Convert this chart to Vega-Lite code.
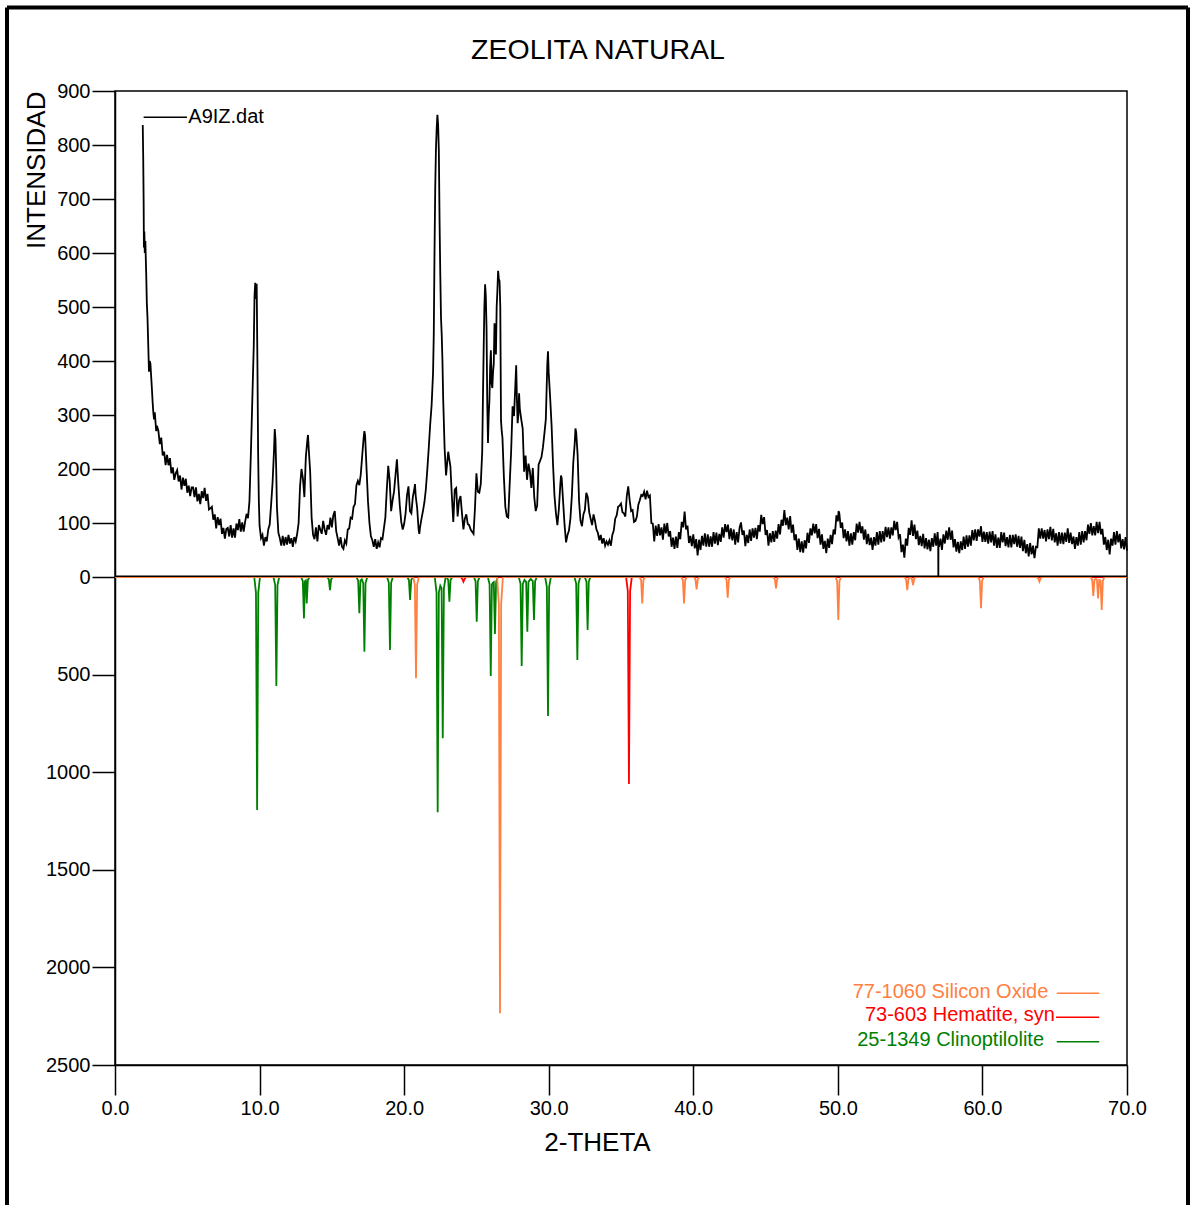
{
"$schema": "https://vega.github.io/schema/vega-lite/v6.json",
"width": 1012, "height": 974,
"autosize": {"type": "none"},
"padding": {"left": 115, "top": 91, "right": 65, "bottom": 140},
"background": "white",
"title": {"text": "ZEOLITA NATURAL", "font": "Liberation Sans", "fontSize": 28.5, "fontWeight": "normal", "color": "black", "anchor": "middle", "baseline": "alphabetic", "offset": -82, "dx": -23},
"config": {
  "view": {"stroke": "black", "strokeWidth": 1.5},
  "axis": {"domainColor": "black", "domainWidth": 1.5, "tickColor": "black", "tickWidth": 1.5, "labelColor": "black", "labelFont": "Liberation Sans", "labelFontSize": 20, "titleFont": "Liberation Sans", "titleFontSize": 26, "titleFontWeight": "normal", "titleColor": "black", "grid": false}
},
"datasets": {
  "sample": [
{"t":1.92,"i":837},{"t":1.95,"i":780},{"t":1.98,"i":700},{"t":2.0,"i":610},{"t":2.03,"i":640},{"t":2.06,"i":600},{"t":2.1,"i":622},{"t":2.13,"i":590},{"t":2.16,"i":560},{"t":2.2,"i":509},{"t":2.25,"i":478},{"t":2.3,"i":430},{"t":2.35,"i":380},{"t":2.4,"i":400},{"t":2.45,"i":395},{"t":2.5,"i":372},{"t":2.55,"i":350},{"t":2.6,"i":325},{"t":2.65,"i":305},{"t":2.7,"i":292},{"t":2.75,"i":305},{"t":2.8,"i":288},{"t":2.85,"i":270},{"t":2.9,"i":280},
{"t":3.0,"i":271},{"t":3.1,"i":246},{"t":3.2,"i":258},{"t":3.3,"i":225},{"t":3.4,"i":232},{"t":3.5,"i":207},{"t":3.6,"i":226},{"t":3.7,"i":207},{"t":3.8,"i":220},{"t":3.9,"i":192},
{"t":4.0,"i":203},{"t":4.1,"i":180},{"t":4.2,"i":192},{"t":4.3,"i":198},{"t":4.4,"i":177},{"t":4.5,"i":188},{"t":4.6,"i":162},{"t":4.7,"i":184},{"t":4.8,"i":169},{"t":4.9,"i":182},
{"t":5.0,"i":156},{"t":5.1,"i":169},{"t":5.2,"i":150},{"t":5.3,"i":166},{"t":5.4,"i":166},{"t":5.5,"i":148},{"t":5.6,"i":166},{"t":5.7,"i":140},{"t":5.8,"i":154},{"t":5.9,"i":135},
{"t":6.0,"i":159},{"t":6.1,"i":146},{"t":6.2,"i":165},{"t":6.3,"i":141},{"t":6.4,"i":154},{"t":6.5,"i":125},{"t":6.6,"i":127},{"t":6.7,"i":130},{"t":6.8,"i":106},{"t":6.9,"i":116},
{"t":7.0,"i":90},{"t":7.1,"i":111},{"t":7.2,"i":96},{"t":7.3,"i":108},{"t":7.4,"i":80},{"t":7.5,"i":91},{"t":7.6,"i":71},{"t":7.7,"i":89},{"t":7.8,"i":91},{"t":7.9,"i":75},
{"t":8.0,"i":96},{"t":8.1,"i":73},{"t":8.2,"i":90},{"t":8.3,"i":73},{"t":8.4,"i":99},{"t":8.5,"i":87},{"t":8.6,"i":107},{"t":8.7,"i":84},{"t":8.8,"i":101},{"t":8.9,"i":84},
{"t":9.0,"i":102},{"t":9.1,"i":117},{"t":9.2,"i":109},{"t":9.3,"i":140},{"t":9.4,"i":230},{"t":9.5,"i":330},{"t":9.6,"i":430},{"t":9.65,"i":520},{"t":9.7,"i":545},{"t":9.75,"i":515},{"t":9.8,"i":543},{"t":9.85,"i":400},{"t":9.9,"i":230},{"t":9.95,"i":140},
{"t":10.0,"i":95},{"t":10.1,"i":72},{"t":10.2,"i":78},{"t":10.3,"i":58},{"t":10.4,"i":74},{"t":10.5,"i":66},{"t":10.6,"i":88},{"t":10.7,"i":97},{"t":10.8,"i":135},{"t":10.9,"i":175},
{"t":11.0,"i":235},{"t":11.05,"i":274},{"t":11.1,"i":255},{"t":11.15,"i":200},{"t":11.2,"i":130},{"t":11.3,"i":82},{"t":11.4,"i":72},{"t":11.5,"i":58},{"t":11.6,"i":76},{"t":11.7,"i":58},{"t":11.8,"i":74},{"t":11.9,"i":60},
{"t":12.0,"i":78},{"t":12.1,"i":62},{"t":12.2,"i":72},{"t":12.3,"i":56},{"t":12.4,"i":74},{"t":12.5,"i":66},{"t":12.6,"i":80},{"t":12.7,"i":100},{"t":12.8,"i":168},{"t":12.9,"i":200},
{"t":13.0,"i":182},{"t":13.1,"i":148},{"t":13.2,"i":222},{"t":13.3,"i":252},{"t":13.35,"i":263},{"t":13.4,"i":238},{"t":13.5,"i":195},{"t":13.6,"i":110},{"t":13.7,"i":78},{"t":13.8,"i":70},{"t":13.9,"i":92},
{"t":14.0,"i":66},{"t":14.1,"i":96},{"t":14.2,"i":88},{"t":14.3,"i":80},{"t":14.4,"i":104},{"t":14.5,"i":88},{"t":14.6,"i":78},{"t":14.7,"i":96},{"t":14.8,"i":88},{"t":14.9,"i":110},
{"t":15.0,"i":92},{"t":15.1,"i":114},{"t":15.2,"i":122},{"t":15.3,"i":85},{"t":15.4,"i":72},{"t":15.5,"i":58},{"t":15.6,"i":74},{"t":15.7,"i":56},{"t":15.8,"i":52},{"t":15.9,"i":68},
{"t":16.0,"i":62},{"t":16.1,"i":88},{"t":16.2,"i":90},{"t":16.3,"i":110},{"t":16.4,"i":108},{"t":16.5,"i":130},{"t":16.6,"i":135},{"t":16.7,"i":170},{"t":16.8,"i":178},{"t":16.9,"i":170},
{"t":17.0,"i":190},{"t":17.1,"i":225},{"t":17.2,"i":258},{"t":17.25,"i":270},{"t":17.3,"i":262},{"t":17.4,"i":200},{"t":17.5,"i":140},{"t":17.6,"i":100},{"t":17.7,"i":76},{"t":17.8,"i":68},{"t":17.9,"i":56},
{"t":18.0,"i":70},{"t":18.1,"i":52},{"t":18.2,"i":64},{"t":18.3,"i":55},{"t":18.4,"i":72},{"t":18.5,"i":70},{"t":18.6,"i":90},{"t":18.7,"i":110},{"t":18.8,"i":162},{"t":18.9,"i":206},
{"t":19.0,"i":178},{"t":19.1,"i":122},{"t":19.2,"i":142},{"t":19.3,"i":158},{"t":19.4,"i":188},{"t":19.5,"i":218},{"t":19.6,"i":172},{"t":19.7,"i":132},{"t":19.8,"i":102},{"t":19.9,"i":88},
{"t":20.0,"i":98},{"t":20.1,"i":118},{"t":20.2,"i":152},{"t":20.3,"i":168},{"t":20.4,"i":122},{"t":20.5,"i":118},{"t":20.6,"i":148},{"t":20.7,"i":162},{"t":20.75,"i":172},{"t":20.8,"i":150},{"t":20.9,"i":128},
{"t":21.0,"i":88},{"t":21.05,"i":80},{"t":21.1,"i":92},{"t":21.2,"i":108},{"t":21.3,"i":122},{"t":21.4,"i":138},{"t":21.5,"i":162},{"t":21.6,"i":198},{"t":21.7,"i":238},{"t":21.8,"i":282},{"t":21.9,"i":318},
{"t":22.0,"i":378},{"t":22.05,"i":450},{"t":22.1,"i":600},{"t":22.15,"i":720},{"t":22.2,"i":792},{"t":22.25,"i":830},{"t":22.3,"i":856},{"t":22.35,"i":838},{"t":22.4,"i":790},{"t":22.45,"i":660},{"t":22.5,"i":560},{"t":22.55,"i":480},{"t":22.6,"i":448},{"t":22.65,"i":400},{"t":22.7,"i":330},{"t":22.8,"i":238},{"t":22.9,"i":188},
{"t":23.0,"i":218},{"t":23.05,"i":232},{"t":23.1,"i":222},{"t":23.2,"i":205},{"t":23.3,"i":150},{"t":23.4,"i":102},{"t":23.5,"i":162},{"t":23.6,"i":165},{"t":23.7,"i":112},{"t":23.8,"i":142},{"t":23.9,"i":150},
{"t":24.0,"i":118},{"t":24.1,"i":88},{"t":24.2,"i":108},{"t":24.3,"i":116},{"t":24.4,"i":98},{"t":24.5,"i":96},{"t":24.6,"i":88},{"t":24.7,"i":84},{"t":24.8,"i":80},{"t":24.9,"i":128},
{"t":25.0,"i":192},{"t":25.1,"i":158},{"t":25.2,"i":156},{"t":25.3,"i":172},{"t":25.4,"i":232},{"t":25.45,"i":330},{"t":25.5,"i":420},{"t":25.55,"i":500},{"t":25.6,"i":542},{"t":25.65,"i":520},{"t":25.7,"i":460},{"t":25.75,"i":320},{"t":25.8,"i":248},{"t":25.85,"i":300},{"t":25.9,"i":328},{"t":25.95,"i":390},
{"t":26.0,"i":420},{"t":26.05,"i":358},{"t":26.1,"i":350},{"t":26.15,"i":380},{"t":26.2,"i":395},{"t":26.25,"i":470},{"t":26.3,"i":430},{"t":26.35,"i":412},{"t":26.4,"i":500},{"t":26.45,"i":530},{"t":26.5,"i":567},{"t":26.55,"i":552},{"t":26.6,"i":548},{"t":26.65,"i":500},{"t":26.7,"i":290},{"t":26.75,"i":270},{"t":26.8,"i":258},{"t":26.9,"i":185},
{"t":27.0,"i":130},{"t":27.1,"i":112},{"t":27.2,"i":110},{"t":27.3,"i":172},{"t":27.4,"i":232},{"t":27.5,"i":316},{"t":27.6,"i":298},{"t":27.7,"i":360},{"t":27.75,"i":392},{"t":27.8,"i":330},{"t":27.85,"i":285},{"t":27.9,"i":300},{"t":27.95,"i":340},
{"t":28.0,"i":312},{"t":28.1,"i":292},{"t":28.2,"i":275},{"t":28.3,"i":195},{"t":28.4,"i":225},{"t":28.5,"i":180},{"t":28.6,"i":210},{"t":28.7,"i":195},{"t":28.8,"i":165},{"t":28.9,"i":202},
{"t":29.0,"i":148},{"t":29.1,"i":122},{"t":29.2,"i":132},{"t":29.3,"i":208},{"t":29.4,"i":215},{"t":29.5,"i":222},{"t":29.6,"i":240},{"t":29.7,"i":265},{"t":29.8,"i":292},{"t":29.9,"i":392},{"t":29.95,"i":418},
{"t":30.0,"i":378},{"t":30.1,"i":332},{"t":30.2,"i":280},{"t":30.3,"i":208},{"t":30.4,"i":150},{"t":30.5,"i":118},{"t":30.6,"i":96},{"t":30.7,"i":125},{"t":30.8,"i":170},{"t":30.85,"i":188},{"t":30.9,"i":182},
{"t":31.0,"i":138},{"t":31.1,"i":95},{"t":31.2,"i":64},{"t":31.3,"i":78},{"t":31.4,"i":86},{"t":31.5,"i":108},{"t":31.6,"i":150},{"t":31.7,"i":212},{"t":31.8,"i":248},{"t":31.85,"i":275},{"t":31.9,"i":268},
{"t":32.0,"i":226},{"t":32.1,"i":140},{"t":32.2,"i":104},{"t":32.3,"i":94},{"t":32.4,"i":116},{"t":32.5,"i":124},{"t":32.6,"i":156},{"t":32.7,"i":148},{"t":32.8,"i":120},{"t":32.9,"i":108},
{"t":33.0,"i":96},{"t":33.1,"i":116},{"t":33.2,"i":104},{"t":33.3,"i":88},{"t":33.4,"i":82},{"t":33.5,"i":68},{"t":33.6,"i":78},{"t":33.7,"i":62},{"t":33.8,"i":72},{"t":33.9,"i":58},
{"t":34.0,"i":66},{"t":34.1,"i":60},{"t":34.2,"i":68},{"t":34.3,"i":58},{"t":34.4,"i":78},{"t":34.5,"i":86},{"t":34.6,"i":108},{"t":34.7,"i":114},{"t":34.8,"i":130},{"t":34.9,"i":132},
{"t":35.0,"i":136},{"t":35.1,"i":120},{"t":35.2,"i":118},{"t":35.3,"i":112},{"t":35.4,"i":150},{"t":35.5,"i":168},{"t":35.6,"i":142},{"t":35.7,"i":122},{"t":35.8,"i":124},{"t":35.9,"i":102},
{"t":36.0,"i":104},{"t":36.1,"i":112},{"t":36.2,"i":134},{"t":36.3,"i":142},{"t":36.4,"i":152},{"t":36.5,"i":150},{"t":36.6,"i":158},{"t":36.7,"i":144},{"t":36.8,"i":160},{"t":36.9,"i":148},
{"t":37.0,"i":151},{"t":37.1,"i":100},{"t":37.2,"i":99},{"t":37.3,"i":66},{"t":37.4,"i":95},{"t":37.5,"i":76},{"t":37.6,"i":98},{"t":37.7,"i":77},{"t":37.8,"i":92},{"t":37.9,"i":69},
{"t":38.0,"i":99},{"t":38.1,"i":81},{"t":38.2,"i":100},{"t":38.3,"i":75},{"t":38.4,"i":85},{"t":38.5,"i":56},{"t":38.6,"i":73},{"t":38.7,"i":52},{"t":38.8,"i":75},{"t":38.9,"i":54},
{"t":39.0,"i":83},{"t":39.1,"i":70},{"t":39.2,"i":102},{"t":39.3,"i":92},{"t":39.4,"i":121},{"t":39.5,"i":88},{"t":39.6,"i":95},{"t":39.7,"i":63},{"t":39.8,"i":76},{"t":39.9,"i":57},
{"t":40.0,"i":79},{"t":40.1,"i":53},{"t":40.2,"i":70},{"t":40.3,"i":40},{"t":40.4,"i":69},{"t":40.5,"i":50},{"t":40.6,"i":76},{"t":40.7,"i":58},{"t":40.8,"i":81},{"t":40.9,"i":56},
{"t":41.0,"i":79},{"t":41.1,"i":56},{"t":41.2,"i":75},{"t":41.3,"i":56},{"t":41.4,"i":83},{"t":41.5,"i":62},{"t":41.6,"i":82},{"t":41.7,"i":59},{"t":41.8,"i":80},{"t":41.9,"i":65},
{"t":42.0,"i":92},{"t":42.1,"i":73},{"t":42.2,"i":98},{"t":42.3,"i":83},{"t":42.4,"i":97},{"t":42.5,"i":70},{"t":42.6,"i":90},{"t":42.7,"i":68},{"t":42.8,"i":88},{"t":42.9,"i":60},
{"t":43.0,"i":83},{"t":43.1,"i":64},{"t":43.2,"i":91},{"t":43.3,"i":101},{"t":43.4,"i":78},{"t":43.5,"i":86},{"t":43.6,"i":57},{"t":43.7,"i":78},{"t":43.8,"i":63},{"t":43.9,"i":88},
{"t":44.0,"i":67},{"t":44.1,"i":90},{"t":44.2,"i":73},{"t":44.3,"i":91},{"t":44.4,"i":70},{"t":44.5,"i":96},{"t":44.6,"i":84},{"t":44.7,"i":115},{"t":44.8,"i":98},{"t":44.9,"i":111},
{"t":45.0,"i":78},{"t":45.1,"i":87},{"t":45.2,"i":58},{"t":45.3,"i":81},{"t":45.4,"i":64},{"t":45.5,"i":85},{"t":45.6,"i":65},{"t":45.7,"i":86},{"t":45.8,"i":71},{"t":45.9,"i":98},
{"t":46.0,"i":79},{"t":46.1,"i":106},{"t":46.2,"i":95},{"t":46.3,"i":124},{"t":46.4,"i":96},{"t":46.5,"i":110},{"t":46.6,"i":88},{"t":46.7,"i":113},{"t":46.8,"i":82},{"t":46.9,"i":97},
{"t":47.0,"i":68},{"t":47.1,"i":79},{"t":47.2,"i":50},{"t":47.3,"i":71},{"t":47.4,"i":46},{"t":47.5,"i":66},{"t":47.6,"i":45},{"t":47.7,"i":68},{"t":47.8,"i":53},{"t":47.9,"i":82},
{"t":48.0,"i":63},{"t":48.1,"i":90},{"t":48.2,"i":77},{"t":48.3,"i":99},{"t":48.4,"i":81},{"t":48.5,"i":98},{"t":48.6,"i":72},{"t":48.7,"i":89},{"t":48.8,"i":60},{"t":48.9,"i":79},
{"t":49.0,"i":52},{"t":49.1,"i":67},{"t":49.2,"i":44},{"t":49.3,"i":71},{"t":49.4,"i":54},{"t":49.5,"i":78},{"t":49.6,"i":61},{"t":49.7,"i":88},{"t":49.8,"i":79},{"t":49.9,"i":114},
{"t":50.0,"i":103},{"t":50.05,"i":122},{"t":50.1,"i":118},{"t":50.2,"i":91},{"t":50.3,"i":101},{"t":50.4,"i":72},{"t":50.5,"i":88},{"t":50.6,"i":66},{"t":50.7,"i":85},{"t":50.8,"i":58},{"t":50.9,"i":81},
{"t":51.0,"i":60},{"t":51.1,"i":83},{"t":51.2,"i":68},{"t":51.3,"i":99},{"t":51.4,"i":82},{"t":51.5,"i":102},{"t":51.6,"i":81},{"t":51.7,"i":94},{"t":51.8,"i":69},{"t":51.9,"i":88},
{"t":52.0,"i":61},{"t":52.1,"i":80},{"t":52.2,"i":59},{"t":52.3,"i":73},{"t":52.4,"i":50},{"t":52.5,"i":74},{"t":52.6,"i":58},{"t":52.7,"i":83},{"t":52.8,"i":60},{"t":52.9,"i":85},
{"t":53.0,"i":64},{"t":53.1,"i":85},{"t":53.2,"i":66},{"t":53.3,"i":93},{"t":53.4,"i":74},{"t":53.5,"i":92},{"t":53.6,"i":71},{"t":53.7,"i":92},{"t":53.8,"i":77},{"t":53.9,"i":104},
{"t":54.0,"i":87},{"t":54.1,"i":102},{"t":54.2,"i":73},{"t":54.3,"i":79},{"t":54.4,"i":46},{"t":54.5,"i":60},{"t":54.6,"i":36},{"t":54.7,"i":71},{"t":54.8,"i":58},{"t":54.9,"i":91},
{"t":55.0,"i":78},{"t":55.1,"i":105},{"t":55.2,"i":76},{"t":55.3,"i":97},{"t":55.4,"i":70},{"t":55.5,"i":86},{"t":55.6,"i":59},{"t":55.7,"i":76},{"t":55.8,"i":57},{"t":55.9,"i":80},
{"t":56.0,"i":53},{"t":56.1,"i":72},{"t":56.2,"i":51},{"t":56.3,"i":69},{"t":56.4,"i":48},{"t":56.5,"i":72},{"t":56.6,"i":56},{"t":56.7,"i":81},{"t":56.8,"i":58},{"t":56.9,"i":83},{"t":56.94,"i":66},{"t":56.95,"i":0},{"t":56.96,"i":64},
{"t":57.0,"i":56},{"t":57.1,"i":71},{"t":57.2,"i":50},{"t":57.3,"i":79},{"t":57.4,"i":62},{"t":57.5,"i":86},{"t":57.6,"i":69},{"t":57.7,"i":92},{"t":57.8,"i":69},{"t":57.9,"i":86},
{"t":58.0,"i":55},{"t":58.1,"i":70},{"t":58.2,"i":47},{"t":58.3,"i":65},{"t":58.4,"i":44},{"t":58.5,"i":66},{"t":58.6,"i":50},{"t":58.7,"i":75},{"t":58.8,"i":52},{"t":58.9,"i":77},
{"t":59.0,"i":56},{"t":59.1,"i":77},{"t":59.2,"i":58},{"t":59.3,"i":87},{"t":59.4,"i":68},{"t":59.5,"i":88},{"t":59.6,"i":67},{"t":59.7,"i":88},{"t":59.8,"i":75},{"t":59.9,"i":94},
{"t":60.0,"i":65},{"t":60.1,"i":84},{"t":60.2,"i":65},{"t":60.3,"i":83},{"t":60.4,"i":62},{"t":60.5,"i":84},{"t":60.6,"i":64},{"t":60.7,"i":85},{"t":60.8,"i":58},{"t":60.9,"i":79},
{"t":61.0,"i":54},{"t":61.1,"i":73},{"t":61.2,"i":54},{"t":61.3,"i":83},{"t":61.4,"i":64},{"t":61.5,"i":82},{"t":61.6,"i":57},{"t":61.7,"i":74},{"t":61.8,"i":55},{"t":61.9,"i":78},
{"t":62.0,"i":55},{"t":62.1,"i":78},{"t":62.2,"i":61},{"t":62.3,"i":79},{"t":62.4,"i":56},{"t":62.5,"i":76},{"t":62.6,"i":54},{"t":62.7,"i":75},{"t":62.8,"i":48},{"t":62.9,"i":69},
{"t":63.0,"i":44},{"t":63.1,"i":61},{"t":63.2,"i":38},{"t":63.3,"i":63},{"t":63.4,"i":42},{"t":63.5,"i":58},{"t":63.6,"i":35},{"t":63.7,"i":56},{"t":63.8,"i":55},{"t":63.9,"i":90},
{"t":64.0,"i":71},{"t":64.1,"i":90},{"t":64.2,"i":71},{"t":64.3,"i":87},{"t":64.4,"i":66},{"t":64.5,"i":88},{"t":64.6,"i":70},{"t":64.7,"i":93},{"t":64.8,"i":68},{"t":64.9,"i":89},
{"t":65.0,"i":64},{"t":65.1,"i":81},{"t":65.2,"i":58},{"t":65.3,"i":83},{"t":65.4,"i":62},{"t":65.5,"i":82},{"t":65.6,"i":61},{"t":65.7,"i":82},{"t":65.8,"i":65},{"t":65.9,"i":90},
{"t":66.0,"i":63},{"t":66.1,"i":82},{"t":66.2,"i":61},{"t":66.3,"i":75},{"t":66.4,"i":52},{"t":66.5,"i":74},{"t":66.6,"i":58},{"t":66.7,"i":83},{"t":66.8,"i":60},{"t":66.9,"i":85},
{"t":67.0,"i":64},{"t":67.1,"i":85},{"t":67.2,"i":68},{"t":67.3,"i":97},{"t":67.4,"i":80},{"t":67.5,"i":100},{"t":67.6,"i":77},{"t":67.7,"i":94},{"t":67.8,"i":77},{"t":67.9,"i":102},
{"t":68.0,"i":81},{"t":68.1,"i":102},{"t":68.2,"i":79},{"t":68.3,"i":89},{"t":68.4,"i":60},{"t":68.5,"i":74},{"t":68.6,"i":50},{"t":68.7,"i":69},{"t":68.8,"i":42},{"t":68.9,"i":71},
{"t":69.0,"i":58},{"t":69.1,"i":83},{"t":69.2,"i":60},{"t":69.3,"i":85},{"t":69.4,"i":64},{"t":69.5,"i":80},{"t":69.6,"i":53},{"t":69.7,"i":70},{"t":69.8,"i":51},{"t":69.9,"i":74},{"t":70.0,"i":49}
  ],
  "clino": [
{"t":0,"i":0},
{"t":9.63,"i":0},{"t":9.75,"i":-80},{"t":9.83,"i":-1194},{"t":9.91,"i":-80},{"t":10.03,"i":0},
{"t":10.96,"i":0},{"t":11.08,"i":-41},{"t":11.16,"i":-558},{"t":11.24,"i":-41},{"t":11.36,"i":0},
{"t":12.87,"i":0},{"t":12.99,"i":-21},{"t":13.07,"i":-212},{"t":13.13,"i":-22},{"t":13.17,"i":-20},{"t":13.2,"i":-18},{"t":13.26,"i":-135},{"t":13.34,"i":-16},{"t":13.46,"i":0},
{"t":14.67,"i":0},{"t":14.79,"i":-12},{"t":14.87,"i":-67},{"t":14.95,"i":-12},{"t":15.07,"i":0},
{"t":16.7,"i":0},{"t":16.82,"i":-19},{"t":16.9,"i":-186},{"t":16.98,"i":-19},{"t":17.07,"i":-12},{"t":17.17,"i":-31},{"t":17.25,"i":-383},{"t":17.33,"i":-31},{"t":17.45,"i":0},
{"t":18.82,"i":0},{"t":18.94,"i":-30},{"t":19.02,"i":-374},{"t":19.1,"i":-30},{"t":19.22,"i":0},
{"t":20.21,"i":0},{"t":20.33,"i":-15},{"t":20.41,"i":-118},{"t":20.49,"i":-15},{"t":20.61,"i":0},
{"t":22.12,"i":0},{"t":22.24,"i":-80},{"t":22.32,"i":-1205},{"t":22.4,"i":-80},{"t":22.5,"i":-45},{"t":22.59,"i":-58},{"t":22.67,"i":-826},{"t":22.75,"i":-58},{"t":22.87,"i":0},
{"t":22.95,"i":0},{"t":23.05,"i":-16},{"t":23.13,"i":-126},{"t":23.21,"i":-16},{"t":23.33,"i":0},
{"t":24.82,"i":0},{"t":24.94,"i":-22},{"t":25.02,"i":-229},{"t":25.1,"i":-22},{"t":25.22,"i":0},
{"t":25.79,"i":0},{"t":25.91,"i":-38},{"t":25.99,"i":-507},{"t":26.07,"i":-38},{"t":26.13,"i":-30},{"t":26.2,"i":-26},{"t":26.28,"i":-292},{"t":26.36,"i":-26},{"t":26.48,"i":0},
{"t":27.93,"i":0},{"t":28.05,"i":-35},{"t":28.13,"i":-456},{"t":28.21,"i":-35},{"t":28.32,"i":-15},{"t":28.44,"i":-25},{"t":28.52,"i":-280},{"t":28.6,"i":-25},{"t":28.75,"i":-10},{"t":28.9,"i":-21},{"t":28.98,"i":-220},{"t":29.06,"i":-21},{"t":29.18,"i":0},
{"t":29.75,"i":0},{"t":29.87,"i":-51},{"t":29.95,"i":-712},{"t":30.03,"i":-51},{"t":30.15,"i":0},
{"t":31.78,"i":0},{"t":31.9,"i":-34},{"t":31.98,"i":-425},{"t":32.06,"i":-34},{"t":32.18,"i":0},
{"t":32.49,"i":0},{"t":32.61,"i":-24},{"t":32.69,"i":-272},{"t":32.77,"i":-24},{"t":32.89,"i":0},
{"t":70,"i":0}
  ],
  "hema": [
{"t":0,"i":0},{"t":23.9,"i":0},{"t":24.02,"i":-10},{"t":24.1,"i":-24},{"t":24.18,"i":-10},{"t":24.3,"i":0},
{"t":35.35,"i":0},{"t":35.47,"i":-72},{"t":35.55,"i":-1060},{"t":35.63,"i":-72},{"t":35.75,"i":0},{"t":70,"i":0}
  ],
  "quartz": [
{"t":0,"i":0},
{"t":20.62,"i":0},{"t":20.74,"i":-39},{"t":20.82,"i":-519},{"t":20.9,"i":-39},{"t":21.02,"i":0},
{"t":26.43,"i":0},{"t":26.55,"i":-142},{"t":26.63,"i":-2235},{"t":26.71,"i":-142},{"t":26.83,"i":0},
{"t":36.27,"i":0},{"t":36.39,"i":-16},{"t":36.47,"i":-135},{"t":36.55,"i":-16},{"t":36.67,"i":0},
{"t":39.16,"i":0},{"t":39.28,"i":-16},{"t":39.36,"i":-135},{"t":39.44,"i":-16},{"t":39.56,"i":0},
{"t":40.03,"i":0},{"t":40.15,"i":-12},{"t":40.23,"i":-63},{"t":40.31,"i":-12},{"t":40.43,"i":0},
{"t":42.18,"i":0},{"t":42.3,"i":-14},{"t":42.38,"i":-106},{"t":42.46,"i":-14},{"t":42.58,"i":0},
{"t":45.52,"i":0},{"t":45.64,"i":-11},{"t":45.72,"i":-58},{"t":45.8,"i":-11},{"t":45.92,"i":0},
{"t":49.83,"i":0},{"t":49.95,"i":-21},{"t":50.03,"i":-220},{"t":50.11,"i":-21},{"t":50.23,"i":0},
{"t":54.6,"i":0},{"t":54.72,"i":-12},{"t":54.8,"i":-67},{"t":54.88,"i":-12},{"t":55.0,"i":0},{"t":55.12,"i":-10},{"t":55.2,"i":-42},{"t":55.28,"i":-10},{"t":55.4,"i":0},
{"t":59.7,"i":0},{"t":59.82,"i":-18},{"t":59.9,"i":-160},{"t":59.98,"i":-18},{"t":60.1,"i":0},
{"t":63.74,"i":0},{"t":63.86,"i":-8},{"t":63.94,"i":-24},{"t":64.02,"i":-8},{"t":64.14,"i":0},
{"t":67.47,"i":0},{"t":67.59,"i":-14},{"t":67.67,"i":-97},{"t":67.75,"i":-14},{"t":67.85,"i":-10},{"t":67.92,"i":-15},{"t":68.0,"i":-110},{"t":68.08,"i":-15},{"t":68.17,"i":-18},{"t":68.25,"i":-169},{"t":68.33,"i":-18},{"t":68.45,"i":0},
{"t":70,"i":0}
  ]
},
"layer": [
  {"data": {"name": "clino"}, "mark": {"type": "line", "color": "#008000", "strokeWidth": 1.8},
   "encoding": {
    "x": {"field": "t", "type": "quantitative", "scale": {"domain": [0, 70], "nice": false, "zero": false},
      "axis": {"values": [0,10,20,30,40,50,60,70], "format": ".1f", "tickSize": 30, "labelPadding": 3, "labelFlush": false, "title": "2-THETA", "titleX": 482, "titleY": 85, "titleAlign": "center", "titleBaseline": "alphabetic"}},
    "y": {"field": "i", "type": "quantitative", "scale": {"domain": [-2500, 0, 900], "range": [974, 486, 0], "nice": false, "zero": false},
      "axis": {"values": [-2500,-2000,-1500,-1000,-500,0,100,200,300,400,500,600,700,800,900], "labelExpr": "format(abs(datum.value),'d')", "tickSize": 23, "labelPadding": 2, "title": "INTENSIDAD", "titleAngle": 270, "titleX": -71, "titleY": 0, "titleAlign": "right", "titleBaseline": "alphabetic"}}
   }},
  {"data": {"name": "hema"}, "mark": {"type": "line", "color": "#FF0000", "strokeWidth": 1.8},
   "encoding": {"x": {"field": "t", "type": "quantitative"}, "y": {"field": "i", "type": "quantitative"}}},
  {"data": {"name": "quartz"}, "mark": {"type": "line", "color": "#FF8040", "strokeWidth": 1.8},
   "encoding": {"x": {"field": "t", "type": "quantitative"}, "y": {"field": "i", "type": "quantitative"}}},
  {"data": {"values": [{}]}, "mark": {"type": "rule", "color": "black", "strokeWidth": 1.5, "yOffset": -0.7},
    "encoding": {"x": {"datum": 0}, "x2": {"datum": 70}, "y": {"datum": 0}}},
  {"data": {"name": "sample"}, "mark": {"type": "line", "color": "black", "strokeWidth": 1.8},
   "encoding": {"x": {"field": "t", "type": "quantitative"}, "y": {"field": "i", "type": "quantitative"}}},
  {"data": {"values": [{}]}, "mark": {"type": "rule", "color": "black", "strokeWidth": 1.5},
    "encoding": {"x": {"datum": 1.98}, "x2": {"datum": 4.98}, "y": {"datum": 851.3}}},
  {"data": {"values": [{}]}, "mark": {"type": "text", "align": "left", "baseline": "alphabetic", "font": "Liberation Sans", "fontSize": 20, "color": "black"},
    "encoding": {"x": {"datum": 5.07}, "y": {"datum": 841.3}, "text": {"value": "A9IZ.dat"}}},
  {"data": {"values": [{}]}, "mark": {"type": "text", "align": "right", "baseline": "alphabetic", "font": "Liberation Sans", "fontSize": 20, "color": "#FF8040"},
    "encoding": {"x": {"datum": 64.56}, "y": {"datum": -2154.7}, "text": {"value": "77-1060 Silicon Oxide"}}},
  {"data": {"values": [{}]}, "mark": {"type": "text", "align": "right", "baseline": "alphabetic", "font": "Liberation Sans", "fontSize": 20, "color": "#FF0000"},
    "encoding": {"x": {"datum": 65.02}, "y": {"datum": -2274.6}, "text": {"value": "73-603 Hematite, syn"}}},
  {"data": {"values": [{}]}, "mark": {"type": "text", "align": "right", "baseline": "alphabetic", "font": "Liberation Sans", "fontSize": 20, "color": "#008000"},
    "encoding": {"x": {"datum": 64.26}, "y": {"datum": -2402.7}, "text": {"value": "25-1349 Clinoptilolite"}}},
  {"data": {"values": [{}]}, "mark": {"type": "rule", "color": "#FF8040", "strokeWidth": 1.5},
    "encoding": {"x": {"datum": 65.14}, "x2": {"datum": 68.08}, "y": {"datum": -2132.7}}},
  {"data": {"values": [{}]}, "mark": {"type": "rule", "color": "#FF0000", "strokeWidth": 1.5},
    "encoding": {"x": {"datum": 65.09}, "x2": {"datum": 68.08}, "y": {"datum": -2255.6}}},
  {"data": {"values": [{}]}, "mark": {"type": "rule", "color": "#008000", "strokeWidth": 1.5},
    "encoding": {"x": {"datum": 65.14}, "x2": {"datum": 68.08}, "y": {"datum": -2380.6}}},
  {"data": {"values": [{}]}, "mark": {"type": "rule", "color": "black", "strokeWidth": 4},
    "encoding": {"x": {"datum": -7.47}, "x2": {"datum": 74.22}, "y": {"datum": 1054.6}}},
  {"data": {"values": [{}]}, "mark": {"type": "rule", "color": "black", "strokeWidth": 4},
    "encoding": {"x": {"datum": -7.47}, "y": {"datum": 1054.6}, "y2": {"datum": -3300}}},
  {"data": {"values": [{}]}, "mark": {"type": "rule", "color": "black", "strokeWidth": 4},
    "encoding": {"x": {"datum": 74.22}, "y": {"datum": 1054.6}, "y2": {"datum": -3300}}}
]
}
